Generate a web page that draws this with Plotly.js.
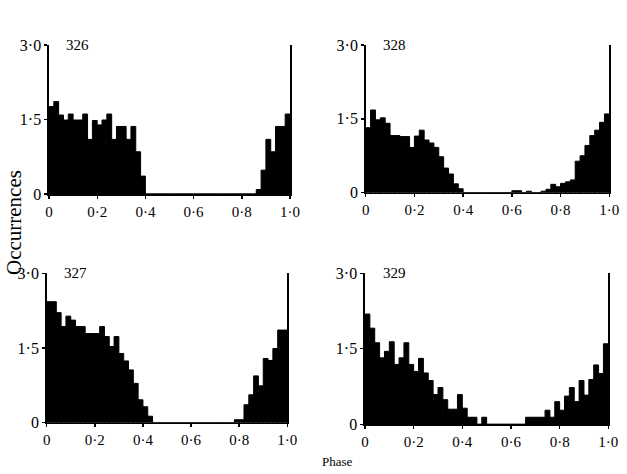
<!DOCTYPE html>
<html>
<head>
<meta charset="utf-8">
<script src="https://cdn.plot.ly/plotly-3.0.1.min.js"></script>
<style>html,body{margin:0;padding:0;background:#fff;}#chart{width:627px;height:474px;}</style>
</head>
<body>
<div id="chart"></div>
<script>
// Bin centres (phase), bin width 0.02
const phaseBins = [0.01,0.03,0.05,0.07,0.09,0.11,0.13,0.15,0.17,0.19,
  0.21,0.23,0.25,0.27,0.29,0.31,0.33,0.35,0.37,0.39,
  0.41,0.43,0.45,0.47,0.49,0.51,0.53,0.55,0.57,0.59,
  0.61,0.63,0.65,0.67,0.69,0.71,0.73,0.75,0.77,0.79,
  0.81,0.83,0.85,0.87,0.89,0.91,0.93,0.95,0.97,0.99];

const occ326 = [1.76,1.86,1.59,1.49,1.61,1.49,1.49,1.61,1.10,1.48,
  1.39,1.49,1.61,1.10,1.36,1.36,1.10,1.36,0.85,0.36,
  0,0,0,0,0,0,0,0,0,0,
  0,0,0,0,0,0,0,0,0,0,
  0,0,0,0.09,0.48,1.10,0.85,1.36,1.36,1.61];

const occ328 = [1.32,1.68,1.48,1.52,1.41,1.16,1.16,1.14,1.14,0.92,
  1.15,1.27,1.07,1.01,0.92,0.73,0.50,0.38,0.18,0.08,
  0,0,0,0,0,0,0,0,0,0,
  0.04,0.04,0,0.03,0,0,0.03,0.07,0.17,0.12,
  0.19,0.22,0.26,0.64,0.75,0.96,1.16,1.27,1.43,1.60];

const occ327 = [2.43,2.43,2.21,1.93,2.14,2.06,1.93,1.93,1.79,1.79,
  1.79,1.93,1.73,1.53,1.73,1.39,1.24,1.06,0.79,0.46,
  0.32,0.13,0,0,0,0,0,0,0,0,
  0,0,0,0,0,0,0,0,0,0.06,
  0.06,0.36,0.56,0.94,0.74,1.29,1.25,1.49,1.86,1.86];

const occ329 = [2.19,1.91,1.62,1.32,1.45,1.64,1.19,1.32,1.62,1.19,
  1.05,1.31,1.02,0.87,0.59,0.73,0.49,0.30,0.30,0.59,
  0.32,0.14,0.14,0,0.14,0,0,0,0,0,
  0,0,0,0.14,0.14,0.14,0.14,0.28,0.14,0.45,
  0.28,0.56,0.73,0.45,0.87,0.58,0.89,1.18,1.01,1.60];

const panelNames = ['326','328','327','329'];
const xTickVals = [0,0.2,0.4,0.6,0.8,1.0];
const xTickText = ['0','0·2','0·4','0·6','0·8','1·0'];
const yTickVals = [0,1.5,3.0];
const yTickText = ['0','1·5','3·0'];

const W = 627, H = 474;
// plot-area pixel boxes [left, right, top(3.0), bottom(0)]
const boxes = [[49,290,45,194],[365.7,609.3,45,192.7],[46.7,287.3,273.3,422.7],[365,608.3,273.3,424.3]];
const series = [occ326, occ328, occ327, occ329];
const FONT = '"Liberation Serif", "Times New Roman", Times, serif';

const traces = [];
const layout = {
  width: W, height: H,
  margin: {l:0, r:0, t:0, b:0},
  paper_bgcolor: '#fff', plot_bgcolor: 'rgba(0,0,0,0)',
  showlegend: false, bargap: 0,
  font: {family: FONT, size: 15, color: '#000'},
  annotations: []
};

series.forEach((vals, i) => {
  const n = i === 0 ? '' : String(i + 1);
  traces.push({
    type: 'bar', x: phaseBins, y: vals,
    xaxis: 'x' + n, yaxis: 'y' + n,
    marker: {color: '#000', line: {color: '#000', width: 1}},
    hoverinfo: 'skip'
  });
  const b = boxes[i];
  layout['xaxis' + n] = {
    domain: [b[0] / W, b[1] / W], anchor: 'y' + n,
    range: [0, 1], showgrid: false, zeroline: false,
    showline: true, linecolor: '#000', linewidth: 1.6,
    ticks: 'outside', ticklen: 3, tickwidth: 1.4, tickcolor: '#000',
    tickvals: xTickVals, ticktext: xTickText,
    tickfont: {family: FONT, size: 15, color: '#000'}
  };
  layout['yaxis' + n] = {
    domain: [1 - b[3] / H, 1 - b[2] / H], anchor: 'x' + n,
    range: [0, 3], showgrid: false, zeroline: false,
    showline: true, linecolor: '#000', linewidth: 1.6, mirror: true,
    ticks: 'outside', ticklen: 3, tickwidth: 1.4, tickcolor: '#000',
    tickvals: yTickVals, ticktext: yTickText,
    tickfont: {family: FONT, size: 16, color: '#000'}
  };
  layout.annotations.push({
    xref: 'x' + n, yref: 'y' + n, x: 0.12, y: 3.0,
    xanchor: 'center', yanchor: 'middle',
    text: panelNames[i], showarrow: false,
    font: {family: FONT, size: 15, color: '#000'}
  });
});

layout.annotations.push({
  xref: 'paper', yref: 'paper', x: 0, y: 1 - 223 / H,
  xanchor: 'left', yanchor: 'middle',
  text: 'Occurrences', textangle: -90, showarrow: false,
  font: {family: FONT, size: 21, color: '#000'}
});
layout.annotations.push({
  xref: 'paper', yref: 'paper', x: 337 / W, y: 1 - 461 / H,
  xanchor: 'center', yanchor: 'middle',
  text: 'Phase', showarrow: false,
  font: {family: FONT, size: 13, color: '#000'}
});

Plotly.newPlot('chart', traces, layout, {staticPlot: true, displayModeBar: false});
</script>
</body>
</html>
